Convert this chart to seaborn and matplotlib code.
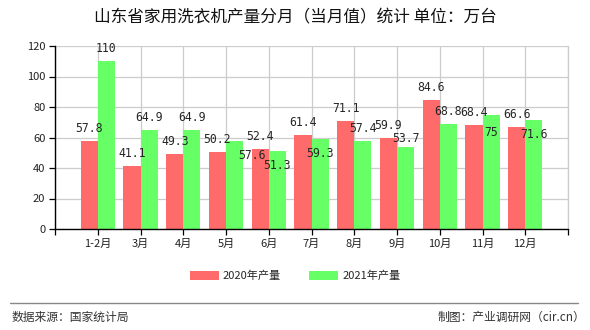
import matplotlib
matplotlib.use("Agg")
import matplotlib.pyplot as plt
import seaborn as sns
import pandas as pd
from matplotlib.patches import Patch
from matplotlib.lines import Line2D

months = ["1-2月", "3月", "4月", "5月", "6月", "7月", "8月", "9月", "10月", "11月", "12月"]
series_names = ["2020年产量", "2021年产量"]
v2020 = [57.8, 41.1, 49.3, 50.2, 52.4, 61.4, 71.1, 59.9, 84.6, 68.4, 66.6]
v2021 = [110, 64.9, 64.9, 57.6, 51.3, 59.3, 57.4, 53.7, 68.8, 75, 71.6]
y_ticks = [0, 20, 40, 60, 80, 100, 120]
title = "山东省家用洗衣机产量分月（当月值）统计 单位：万台"
source_text = "数据来源：国家统计局"
credit_text = "制图：产业调研网（cir.cn）"

# label placement style for the 2021 series: (dx px, dy px) from bar top centre
green_label_offsets = [(0, 6), (0, 6), (0, 6), (17, -8), (0, -8), (0, -8),
                       (0, 6), (0, 2), (0, 6), (0, -11), (0, -8)]

colors = ["#FF6A6A", "#66FF66"]

sns.set_theme(style="white")
plt.rcParams["font.family"] = ["Noto Sans CJK SC", "DejaVu Sans"]

df = pd.DataFrame({
    "month": months * 2,
    "series": [series_names[0]] * len(months) + [series_names[1]] * len(months),
    "value": v2020 + v2021,
})

fig = plt.figure(figsize=(5.9, 3.3), dpi=100)
ax = fig.add_axes([55 / 590, 1 - 229 / 330, 513 / 590, 183 / 330])

sns.barplot(data=df, x="month", y="value", hue="series", order=months,
            hue_order=series_names, palette=colors, width=0.8, gap=0,
            saturation=1, legend=False, ax=ax, zorder=3)
for p in ax.patches:
    p.set_edgecolor("none")

ax.set_xlim(-1, 11)
ax.set_ylim(0, 120)
ax.set_yticks(y_ticks)
ax.set_yticklabels([str(t) for t in y_ticks], fontsize=8, color="#222")
xt = list(range(-1, 12))
ax.set_xticks(xt)
ax.set_xticklabels([""] + months + [""], fontsize=8, color="#222")
ax.set_xlabel("")
ax.set_ylabel("")
ax.grid(True, color="#cccccc", linewidth=0.9, zorder=0)
ax.set_axisbelow(True)
ax.spines["top"].set_visible(False)
ax.spines["right"].set_visible(True)
ax.spines["right"].set_color("#cccccc")
ax.spines["right"].set_linewidth(0.9)
for s in ["left", "bottom"]:
    ax.spines[s].set_color("black")
    ax.spines[s].set_linewidth(1.0)
    ax.spines[s].set_zorder(5)
ax.tick_params(axis="both", direction="out", length=4, width=0.9, color="black",
               bottom=True, left=True, pad=3)

# data labels
mono = "DejaVu Sans Mono"
for i, v in enumerate(v2020):
    ax.annotate(f"{v:g}", (i - 0.2, v), xytext=(0, 6), textcoords="offset pixels",
                ha="center", va="bottom", fontsize=8.3, family=mono, zorder=6)
for i, v in enumerate(v2021):
    dx, dy = green_label_offsets[i]
    ax.annotate(f"{v:g}", (i + 0.2, v), xytext=(dx, dy), textcoords="offset pixels",
                ha="center", va="bottom" if dy > 0 else "top", fontsize=8.3,
                family=mono, zorder=6)

fig.text(0.5, 1 - 18 / 330, title, ha="center", va="center", fontsize=12,
         color="#111")

handles = [Patch(facecolor=c, edgecolor="none") for c in colors]
fig.legend(handles, series_names, loc="center", bbox_to_anchor=(0.5, 1 - 276 / 330),
           ncol=2, frameon=False, fontsize=8, handlelength=2.6, handleheight=0.8,
           columnspacing=2.5, handletextpad=0.4)

fig.add_artist(Line2D([10 / 590, 578 / 590], [1 - 303 / 330] * 2,
                      transform=fig.transFigure, color="#888888", linewidth=1))
fig.text(12 / 590, 1 - 317 / 330, source_text, ha="left", va="center",
         fontsize=8.5, color="#333")
fig.text(585 / 590, 1 - 317 / 330, credit_text, ha="right", va="center",
         fontsize=8.5, color="#333")

fig.savefig("out.png", dpi=100)
